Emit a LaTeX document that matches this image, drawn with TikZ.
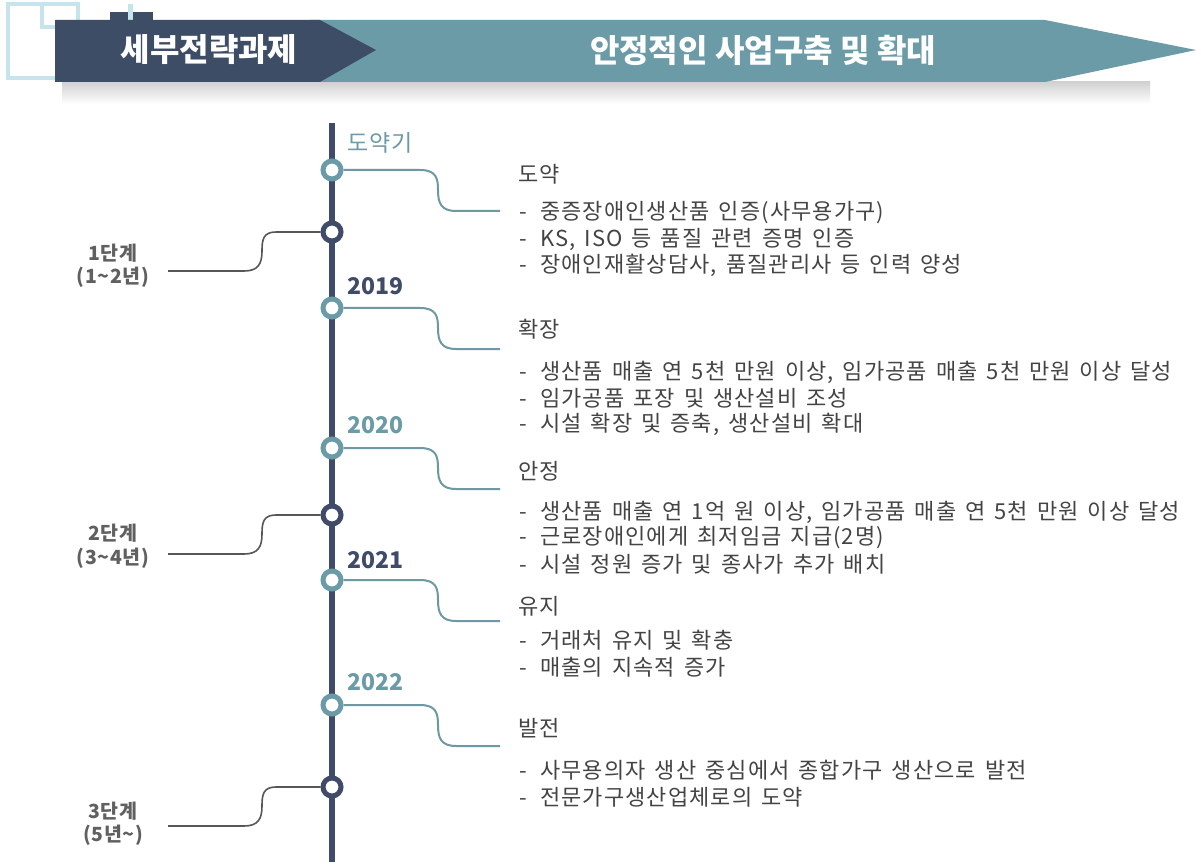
\documentclass[tikz,border=0pt]{standalone}
\usepackage{fontspec}
\setmainfont{Noto Sans CJK KR}
\newfontfamily\bodyfont[LetterSpace=5]{Noto Sans CJK KR}
\newfontfamily\labfont[LetterSpace=6]{Noto Sans CJK KR}
\newfontfamily\stfont[LetterSpace=3]{Noto Sans CJK KR}
\newfontfamily\yrfont[LetterSpace=5]{Noto Sans CJK KR}
\newfontfamily\headfont{Noto Sans CJK KR}
\newcommand{\bodysetup}{\bodyfont\fontsize{22}{22}\selectfont\setlength{\spaceskip}{9pt}}
\definecolor{navy}{HTML}{3E4D66}
\definecolor{teal}{HTML}{6A9BA6}
\definecolor{lineteal}{HTML}{6E98A2}
\definecolor{txtgray}{HTML}{444444}
\definecolor{lblue}{HTML}{C6E4EC}
\definecolor{axis}{HTML}{3F4B68}
\tikzset{
  bullet/.style={anchor=west, inner sep=0pt, text=txtgray, font=\bodysetup},
  heading/.style={anchor=west, inner sep=0pt, text=txtgray, font=\labfont\fontsize{22}{22}\selectfont},
  yearlab/.style={anchor=west, inner sep=0pt, font=\headfont\bfseries\fontsize{23}{23}\selectfont},
  stagelab/.style={inner sep=0pt, text=txtgray!85, font=\stfont\bfseries\fontsize{19.5}{19.5}\selectfont},
  tealdot/.style={circle, draw=teal, line width=5pt, fill=white, minimum size=18pt, inner sep=0pt},
  darkdot/.style={circle, draw=axis, line width=5pt, fill=white, minimum size=18pt, inner sep=0pt},
  rconn/.style={draw=lineteal, line width=2pt},
  lconn/.style={draw=txtgray!90, line width=1.6pt},
  bannertext/.style={text=white, font=\headfont\bfseries\fontsize{32}{32}\selectfont},
}
\begin{document}
\begin{tikzpicture}[x=1pt,y=-1pt]
\useasboundingbox (0,0) rectangle (1201,866);
\fill[white] (0,0) rectangle (1201,866);
% decoration top-left
\draw[lblue, line width=4pt] (8,80) -- (8,4) -- (78,4) -- (78,30);
\draw[lblue, line width=4pt] (42,4) -- (42,27) -- (78,27);
\draw[lblue, line width=4pt] (8,78) -- (60,78);
\fill[navy] (110,12) rectangle (153,22);
\fill[lblue] (128,4) rectangle (133,22);
% shadow
\shade[top color=black!18, bottom color=white] (62,82) rectangle (1150,104);
% banners
\fill[teal] (310,20) -- (1045,20) -- (1196,50) -- (1045,82) -- (310,82) -- cycle;
\fill[navy] (55,20) -- (320,20) -- (376,50) -- (320,82) -- (55,82) -- cycle;
\node[bannertext] (h1) at (209,50) {세부전략과제};
\node[bannertext] (h2) at (763,50) {안정적인 사업구축 및 확대};
% axis
\draw[axis, line width=6pt] (332,123) -- (332,862);
% dots
\node[tealdot] (d0) at (332,170) {};
\node[darkdot] (s1) at (332,232) {};
\node[tealdot] (d1) at (332,308) {};
\node[tealdot] (d2) at (332,448) {};
\node[darkdot] (s2) at (332,515) {};
\node[tealdot] (d3) at (332,580) {};
\node[tealdot] (d4) at (332,705) {};
\node[darkdot] (s3) at (332,787) {};
% year labels
\node[yearlab, text=teal, font=\yrfont\fontsize{23}{23}\selectfont] (y0) at (347,143) {도약기};
\node[yearlab, text=axis] (y1) at (347,286) {2019};
\node[yearlab, text=teal] (y2) at (347,425) {2020};
\node[yearlab, text=axis] (y3) at (347,560) {2021};
\node[yearlab, text=teal] (y4) at (347,682) {2022};
% right connectors
\foreach \d/\y/\e in {d0/170/e0, d1/308/e1, d2/448/e2, d3/580/e3, d4/705/e4}{
  \coordinate (\e) at (500,\y+41);
  \draw[rconn] (\d.east) -- (420,\y) .. controls (436,\y) and (438,\y+8) .. (438,\y+20)
     .. controls (438,\y+33) and (441,\y+41) .. (456,\y+41) -- (\e);
}
% left connectors
\foreach \s/\y/\e in {s1/232/f1, s2/515/f2, s3/787/f3}{
  \coordinate (\e) at (168,\y+39);
  \draw[lconn] (\s.west) -- (276,\y) .. controls (263,\y) and (262,\y+8) .. (262,\y+19)
     .. controls (262,\y+32) and (258,\y+39) .. (244,\y+39) -- (\e);
}
% stage labels
\node[stagelab] (l1a) at (113,253) {1단계};
\node[stagelab] (l1b) at (113,277) {(1\textasciitilde 2년)};
\node[stagelab] (l2a) at (113,533) {2단계};
\node[stagelab] (l2b) at (113,558) {(3\textasciitilde 4년)};
\node[stagelab] (l3a) at (113,811) {3단계};
\node[stagelab] (l3b) at (113,835) {(5년\textasciitilde)};
% headings
\node[heading] (g0) at (518,174) {도약};
\node[heading] (g1) at (518,329) {확장};
\node[heading] (g2) at (518,471) {안정};
\node[heading] (g3) at (518,606) {유지};
\node[heading] (g4) at (518,728) {발전};
% bullets
\newcommand{\dsh}{\makebox[21pt][l]{-}}
\node[bullet] (b1) at (519,213) {\dsh 중증장애인생산품 인증(사무용가구)};
\node[bullet] (b2) at (519,239) {\dsh KS, ISO 등 품질 관련 증명 인증};
\node[bullet] (b3) at (519,265) {\dsh 장애인재활상담사, 품질관리사 등 인력 양성};
\node[bullet] (b4) at (519,372) {\dsh 생산품 매출 연 5천 만원 이상, 임가공품 매출 5천 만원 이상 달성};
\node[bullet] (b5) at (519,398) {\dsh 임가공품 포장 및 생산설비 조성};
\node[bullet] (b6) at (519,424) {\dsh 시설 확장 및 증축, 생산설비 확대};
\node[bullet] (b7) at (519,512) {\dsh 생산품 매출 연 1억 원 이상, 임가공품 매출 연 5천 만원 이상 달성};
\node[bullet] (b8) at (519,538) {\dsh 근로장애인에게 최저임금 지급(2명)};
\node[bullet] (b9) at (519,564) {\dsh 시설 정원 증가 및 종사가 추가 배치};
\node[bullet] (b10) at (519,640) {\dsh 거래처 유지 및 확충};
\node[bullet] (b11) at (519,667) {\dsh 매출의 지속적 증가};
\node[bullet] (b12) at (519,770) {\dsh 사무용의자 생산 중심에서 종합가구 생산으로 발전};
\node[bullet] (b13) at (519,797) {\dsh 전문가구생산업체로의 도약};
\end{tikzpicture}
\end{document}
